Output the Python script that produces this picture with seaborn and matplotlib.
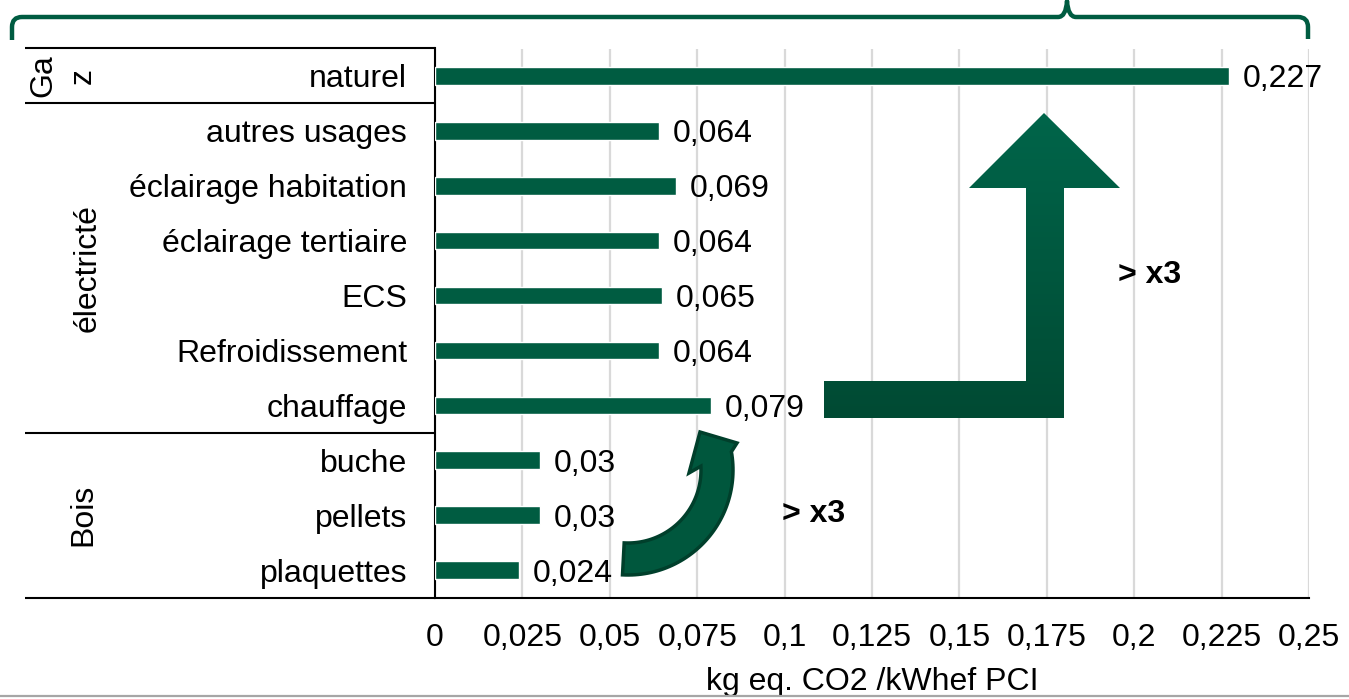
import numpy as np
import pandas as pd
import matplotlib
matplotlib.use("Agg")
import matplotlib.pyplot as plt
import seaborn as sns
from matplotlib.path import Path
from matplotlib.patches import PathPatch, Polygon
from matplotlib.colors import LinearSegmentedColormap
import matplotlib.transforms as mtransforms

# ---------------- data ----------------
categories = ["naturel", "autres usages", "éclairage habitation", "éclairage tertiaire",
              "ECS", "Refroidissement", "chauffage", "buche", "pellets", "plaquettes"]
values = [0.227, 0.064, 0.069, 0.064, 0.065, 0.064, 0.079, 0.03, 0.03, 0.024]
groups = ["Ga\nz", "électricté", "Bois"]
group_sizes = [1, 6, 3]
xtick_values = [0, 0.025, 0.05, 0.075, 0.1, 0.125, 0.15, 0.175, 0.2, 0.225, 0.25]
xtick_labels = ["0", "0,025", "0,05", "0,075", "0,1", "0,125", "0,15", "0,175", "0,2", "0,225", "0,25"]
x_label = "kg eq. CO2 /kWhef PCI"
multiplier_text = "> x3"

GREEN = "#005C41"
FS = 23

sns.set_style("white")
plt.rcParams["font.family"] = ["Liberation Sans", "DejaVu Sans"]
for k in ["text.color", "axes.labelcolor", "xtick.color", "ytick.color"]:
    plt.rcParams[k] = "black"

W, H = 1349, 699
fig = plt.figure(figsize=(W / 100, H / 100), dpi=100)
fig.patch.set_facecolor("white")

def px_rect(x0, y0, x1, y1):
    return [x0 / W, 1 - y1 / H, (x1 - x0) / W, (y1 - y0) / H]

ax = fig.add_axes(px_rect(435, 48.5, 1309, 597.5))

df = pd.DataFrame({"cat": categories, "val": values})
sns.barplot(data=df, x="val", y="cat", orient="h", color=GREEN, saturation=1,
            width=0.32, ax=ax, zorder=3)

labels = [f"{v:g}".replace(".", ",") for v in values]
anns = ax.bar_label(ax.containers[0], labels=labels, padding=10, fontsize=FS, color="black")
for a in anns:
    a.xyann = (10, -2.5)

ax.set_xlim(0, 0.25)
ax.set_ylim(len(categories) - 0.5, -0.5)
ax.set_xticks(xtick_values)
ax.set_xticklabels(xtick_labels, fontsize=FS)
ax.set_xlabel(x_label, fontsize=FS, labelpad=10.5)
ax.set_ylabel("")
ax.tick_params(axis="y", length=0, pad=20, labelsize=FS, colors="black")
ax.tick_params(axis="x", length=7, width=1.5, color="black", labelcolor="black",
               pad=11, labelsize=FS)
ax.grid(axis="x", color="#d9d9d9", linewidth=1.6, zorder=0)
ax.set_axisbelow(True)
for s in ["top", "right"]:
    ax.spines[s].set_visible(False)
for s in ["left", "bottom"]:
    ax.spines[s].set_color("black")
    ax.spines[s].set_linewidth(1.5)

# group separators and group labels (x in axes coords, y in data coords)
trans = mtransforms.blended_transform_factory(ax.transAxes, ax.transData)
x_line0 = (25 - 435) / 874
bounds = [-0.5]
for s in group_sizes:
    bounds.append(bounds[-1] + s)
for b in bounds:
    ax.plot([x_line0, 0], [b, b], transform=trans, color="black", lw=1.5,
            clip_on=False, solid_capstyle="butt")
group_x = [(63 - 435) / 874, (88 - 435) / 874, (83 - 435) / 874]
for g, gx, b0, b1 in zip(groups, group_x, bounds[:-1], bounds[1:]):
    ax.text(gx, (b0 + b1) / 2, g, transform=trans, rotation=90, ha="center",
            va="center", fontsize=FS, linespacing=1.4, rotation_mode="anchor",
            color="black")

# ---------------- overlay (pixel coords) ----------------
ov = fig.add_axes([0, 0, 1, 1], zorder=10)
ov.patch.set_alpha(0)
ov.axis("off")

# brace at top
verts = [(12, 40), (12, 27), (12, 17), (22, 17), (1058, 17), (1066, 17), (1067, 1),
         (1068, 17), (1076, 17), (1298, 17), (1308, 17), (1308, 27), (1308, 39)]
codes = [Path.MOVETO, Path.LINETO, Path.CURVE3, Path.CURVE3, Path.LINETO,
         Path.CURVE3, Path.CURVE3, Path.CURVE3, Path.CURVE3, Path.LINETO,
         Path.CURVE3, Path.CURVE3, Path.LINETO]
ov.add_patch(PathPatch(Path(verts, codes), fill=False, edgecolor=GREEN, lw=3.2,
                       capstyle="butt", joinstyle="round"))

# L-shaped arrow with gradient
l_pts = [(824, 381), (1026, 381), (1026, 188), (969, 188), (1044, 113), (1120, 188),
         (1064, 188), (1064, 418), (824, 418)]
l_patch = Polygon(l_pts, closed=True, facecolor="none", edgecolor="none")
ov.add_patch(l_patch)
cmap = LinearSegmentedColormap.from_list("g", ["#004A33", "#00654A"])
grad = np.linspace(0, 1, 256).reshape(-1, 1)
im = ov.imshow(grad, extent=[824, 1120, 418, 113], origin="lower", cmap=cmap,
               aspect="auto", interpolation="bilinear")
im.set_clip_path(l_patch)

# curved arrow
cx, cy = 628, 470
r_out, r_in = 105, 73
th_out = np.radians(np.linspace(93, -10, 60))
th_in = np.radians(np.linspace(-3, 93, 60))
outer = [(cx + r_out * np.cos(t), cy + r_out * np.sin(t)) for t in th_out]
inner = [(cx + r_in * np.cos(t), cy + r_in * np.sin(t)) for t in th_in]
c_pts = outer + [(737, 443), (700, 432), (689, 473)] + inner
ov.add_patch(Polygon(c_pts, closed=True, facecolor="#00573D", edgecolor="#003F2B",
                     lw=2.5, joinstyle="miter"))

ov.text(1150, 275, multiplier_text, fontsize=FS, fontweight="bold", ha="center",
        va="center", color="black")
ov.text(814, 514, multiplier_text, fontsize=FS, fontweight="bold", ha="center",
        va="center", color="black")

# bottom frame line
ov.plot([0, W], [696, 696], color="#a6a6a6", lw=1.6)

ov.set_xlim(0, W)
ov.set_ylim(H, 0)

fig.savefig("out.png", dpi=100)
